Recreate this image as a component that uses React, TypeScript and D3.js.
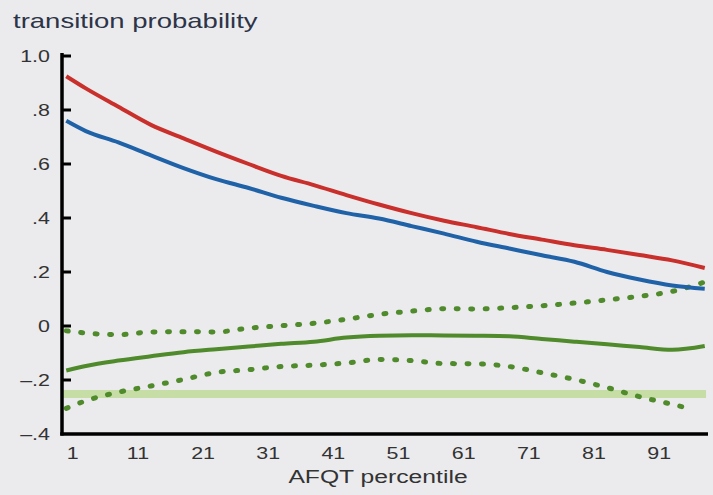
import React from "react";
import * as d3 from "d3";

const pct = [0, 3, 8, 13, 18, 23, 28, 33, 38, 43, 48, 53, 58, 63, 68, 73, 78, 83, 88, 93, 98];
const redValues = [0.925, 0.88, 0.812, 0.745, 0.695, 0.646, 0.6, 0.556, 0.522, 0.485, 0.45, 0.418, 0.39, 0.366, 0.341, 0.32, 0.299, 0.282, 0.263, 0.243, 0.215];
const blueValues = [0.76, 0.722, 0.68, 0.632, 0.585, 0.544, 0.511, 0.475, 0.445, 0.418, 0.398, 0.37, 0.342, 0.312, 0.287, 0.262, 0.238, 0.2, 0.172, 0.15, 0.138];
const greenValues = [-0.165, -0.148, -0.128, -0.112, -0.097, -0.086, -0.076, -0.066, -0.058, -0.043, -0.036, -0.034, -0.035, -0.036, -0.038, -0.048, -0.058, -0.068, -0.078, -0.088, -0.074];
const upperValues = [-0.018, -0.026, -0.032, -0.022, -0.021, -0.022, -0.008, 0.001, 0.01, 0.025, 0.043, 0.055, 0.064, 0.063, 0.068, 0.075, 0.085, 0.097, 0.11, 0.128, 0.163];
const lowerPct = [0, 3, 8, 13, 18, 23, 28, 33, 38, 43, 48, 53, 58, 63, 68, 73, 78, 83, 88, 93, 96];
const lowerValues = [-0.305, -0.277, -0.245, -0.222, -0.198, -0.172, -0.162, -0.15, -0.145, -0.137, -0.124, -0.128, -0.139, -0.14, -0.15, -0.173, -0.198, -0.228, -0.262, -0.29, -0.308];
const bandValue = -0.252;

const xTicks = [1, 11, 21, 31, 41, 51, 61, 71, 81, 91];
const yTicks = [1.0, 0.8, 0.6, 0.4, 0.2, 0, -0.2, -0.4];
const yTickLabels = ["1.0", ".8", ".6", ".4", ".2", "0", "\u2013.2", "\u2013.4"];

const W = 713;
const H = 495;
const SX = 1.3;

export default function App() {
  const x = d3.scaleLinear().domain([-0.5, 98.5]).range([63, 708]);
  const y = d3.scaleLinear().domain([-0.4, 1.0]).range([434, 56]);

  const line = d3
    .line<[number, number]>()
    .x((d) => x(d[0]))
    .y((d) => y(d[1]))
    .curve(d3.curveMonotoneX);

  const zip = (xs: number[], ys: number[]) => xs.map((v, i) => [v, ys[i]] as [number, number]);

  const axisX = 62;
  const axisBottom = 434;
  const font = "'Liberation Sans', Arial, Helvetica, sans-serif";

  return (
    <div style={{ position: "fixed", left: 0, top: 0, width: W, height: H }}>
      <svg width={W} height={H} style={{ display: "block" }}>
        <rect x={0} y={0} width={W} height={H} fill="#ebebee" />

        <text
          transform={`translate(13,28) scale(1.31,1)`}
          fontFamily={font}
          fontSize={21}
          fill="#2d3447"
        >
          transition probability
        </text>

        {/* band */}
        <line
          x1={axisX}
          x2={x(98.2)}
          y1={y(bandValue)}
          y2={y(bandValue)}
          stroke="#c6dda6"
          strokeWidth={8}
        />

        {/* series */}
        <path d={line(zip(pct, upperValues)) || ""} fill="none" stroke="#4f8a2b" strokeWidth={5} strokeLinecap="round" strokeDasharray="2 12.5" />
        <path d={line(zip(lowerPct, lowerValues)) || ""} fill="none" stroke="#4f8a2b" strokeWidth={5} strokeLinecap="round" strokeDasharray="2 12.5" />
        <path d={line(zip(pct, greenValues)) || ""} fill="none" stroke="#4f8a2b" strokeWidth={4} strokeLinejoin="round" />
        <path d={line(zip(pct, blueValues)) || ""} fill="none" stroke="#2062a8" strokeWidth={4} strokeLinejoin="round" />
        <path d={line(zip(pct, redValues)) || ""} fill="none" stroke="#c9302c" strokeWidth={4} strokeLinejoin="round" />

        {/* axes */}
        <line x1={axisX} x2={axisX} y1={53} y2={axisBottom + 1.5} stroke="#000" strokeWidth={3.5} />
        <line x1={axisX - 1.75} x2={708} y1={axisBottom} y2={axisBottom} stroke="#000" strokeWidth={3.5} />
        {yTicks.map((t, i) => (
          <g key={i}>
            {t > -0.4 && (
              <line x1={axisX} x2={axisX + 9} y1={y(t)} y2={y(t)} stroke="#000" strokeWidth={3} />
            )}
            <text
              transform={`translate(50,${y(t) + 5.5}) scale(${SX},1)`}
              textAnchor="end"
              fontFamily={font}
              fontSize={16.5}
              fill="#333"
            >
              {yTickLabels[i]}
            </text>
          </g>
        ))}
        {xTicks.map((t) => (
          <text
            key={t}
            transform={`translate(${x(t)},459) scale(${SX},1)`}
            textAnchor="middle"
            fontFamily={font}
            fontSize={16.5}
            fill="#333"
          >
            {t}
          </text>
        ))}
        <text
          transform={`translate(378,483) scale(${SX},1)`}
          textAnchor="middle"
          fontFamily={font}
          fontSize={19}
          fill="#333"
        >
          AFQT percentile
        </text>
      </svg>
    </div>
  );
}
